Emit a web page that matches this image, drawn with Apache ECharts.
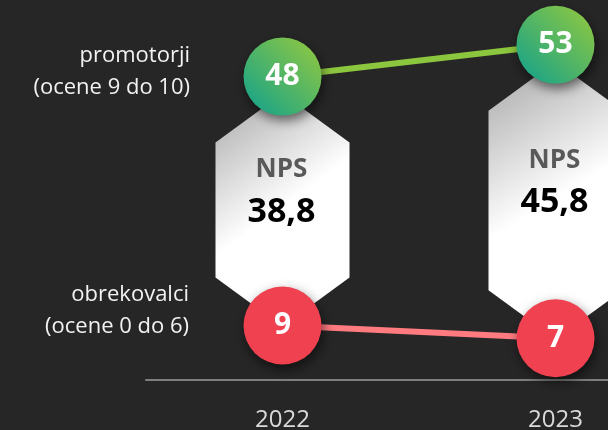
<!DOCTYPE html>
<html>
<head>
<meta charset="utf-8">
<script src="https://cdn.jsdelivr.net/npm/echarts@6/dist/echarts.min.js"></script>
<style>
html,body{margin:0;padding:0;background:#262626;}
#c{width:608px;height:430px;}
</style>
</head>
<body>
<div id="c"></div>
<script>
// ---- data ----
const categories = ['2022', '2023'];
const promoters = [48, 53];
const detractors = [9, 7];
const npsValues = [38.8, 45.8];
const npsTitle = 'NPS';
const promoterLabel = 'promotorji\n(ocene 9 do 10)';
const detractorLabel = 'obrekovalci\n(ocene 0 do 6)';

const FONT = '"Open Sans", "Noto Sans", sans-serif';
const chart = echarts.init(document.getElementById('c'), null, {renderer: 'canvas'});

const hexData = categories.map((c, i) => [i, promoters[i], detractors[i], npsValues[i]]);

function fmt(v) { return v.toFixed(1).replace('.', ','); }

const option = {
  backgroundColor: '#262626',
  animation: false,
  grid: {left: 146, width: 546, top: 0, height: 383, outerBoundsMode: 'none', containLabel: false},
  xAxis: {
    type: 'category',
    data: categories,
    offset: -3,
    axisLine: {lineStyle: {color: '#7f7f7f', width: 2}},
    axisTick: {show: false},
    axisLabel: {color: '#d9d9d9', fontSize: 24, fontFamily: FONT, margin: 28}
  },
  yAxis: {
    type: 'value', min: 0, max: 60, show: false,
    splitLine: {show: false}
  },
  graphic: [
    {type: 'text', x: 190, y: 72, z: 10,
     style: {text: promoterLabel, fill: '#f2f2f2', font: '22px ' + FONT, lineHeight: 32,
             align: 'right', verticalAlign: 'middle', textAlign: 'right', textVerticalAlign: 'middle'}},
    {type: 'text', x: 189, y: 311, z: 10,
     style: {text: detractorLabel, fill: '#f2f2f2', font: '22px ' + FONT, lineHeight: 32,
             align: 'right', verticalAlign: 'middle', textAlign: 'right', textVerticalAlign: 'middle'}}
  ],
  series: [
    {
      type: 'custom',
      z: 1,
      data: hexData,
      encode: {x: 0, y: [1, 2]},
      renderItem: function (params, api) {
        const i = api.value(0);
        const top = api.coord([i, api.value(1)]);
        const bot = api.coord([i, api.value(2)]);
        const cx = top[0];
        const hw = 67, slant = 49;
        const ts = top[1] + 66, bs = bot[1] - 48;
        const pts = [[cx, ts - slant], [cx + hw, ts], [cx + hw, bs], [cx, bs + slant], [cx - hw, bs], [cx - hw, ts]];
        const mid = (ts + bs) / 2;
        return {
          type: 'group',
          children: [
            {type: 'polygon', shape: {points: pts},
             style: {fill: new echarts.graphic.LinearGradient(0, 0.15, 0.7, 0.7, [
               {offset: 0, color: '#bababa'}, {offset: 0.65, color: '#ffffff'}, {offset: 1, color: '#ffffff'}])}},
            {type: 'text', x: cx - 1, y: mid - 40,
             style: {text: npsTitle, fill: '#595959', font: 'bold 26px ' + FONT,
                     align: 'center', verticalAlign: 'middle', textAlign: 'center', textVerticalAlign: 'middle'}},
            {type: 'text', x: cx - 1, y: mid + 2,
             style: {text: fmt(api.value(3)), fill: '#000000', font: 'bold 34px ' + FONT,
                     align: 'center', verticalAlign: 'middle', textAlign: 'center', textVerticalAlign: 'middle'}}
          ]
        };
      }
    },
    {
      type: 'line', z: 2, data: promoters, symbol: 'none',
      lineStyle: {color: '#8cc63e', width: 6}
    },
    {
      type: 'line', z: 2, data: detractors, symbol: 'none',
      lineStyle: {color: '#ff7b80', width: 6}
    },
    {
      type: 'scatter', z: 3, data: promoters, symbolSize: 78,
      itemStyle: {
        opacity: 1,
        color: new echarts.graphic.LinearGradient(0, 1, 1, 0, [
          {offset: 0, color: '#0fa08e'}, {offset: 1, color: '#96ca3c'}]),
        shadowColor: 'rgba(0,0,0,0.55)', shadowBlur: 12, shadowOffsetX: 2, shadowOffsetY: 5
      },
      emphasis: {disabled: true},
      label: {show: true, position: 'inside', color: '#ffffff', fontSize: 30, fontWeight: 'bold',
              fontFamily: FONT, formatter: p => Array.isArray(p.value) ? p.value[1] : p.value}
    },
    {
      type: 'scatter', z: 3, data: detractors, symbolSize: 78,
      itemStyle: {
        opacity: 1,
        color: '#ef414f',
        shadowColor: 'rgba(0,0,0,0.55)', shadowBlur: 12, shadowOffsetX: 2, shadowOffsetY: 5
      },
      emphasis: {disabled: true},
      label: {show: true, position: 'inside', color: '#ffffff', fontSize: 30, fontWeight: 'bold',
              fontFamily: FONT, formatter: p => Array.isArray(p.value) ? p.value[1] : p.value}
    }
  ]
};
chart.setOption(option);
</script>
</body>
</html>
